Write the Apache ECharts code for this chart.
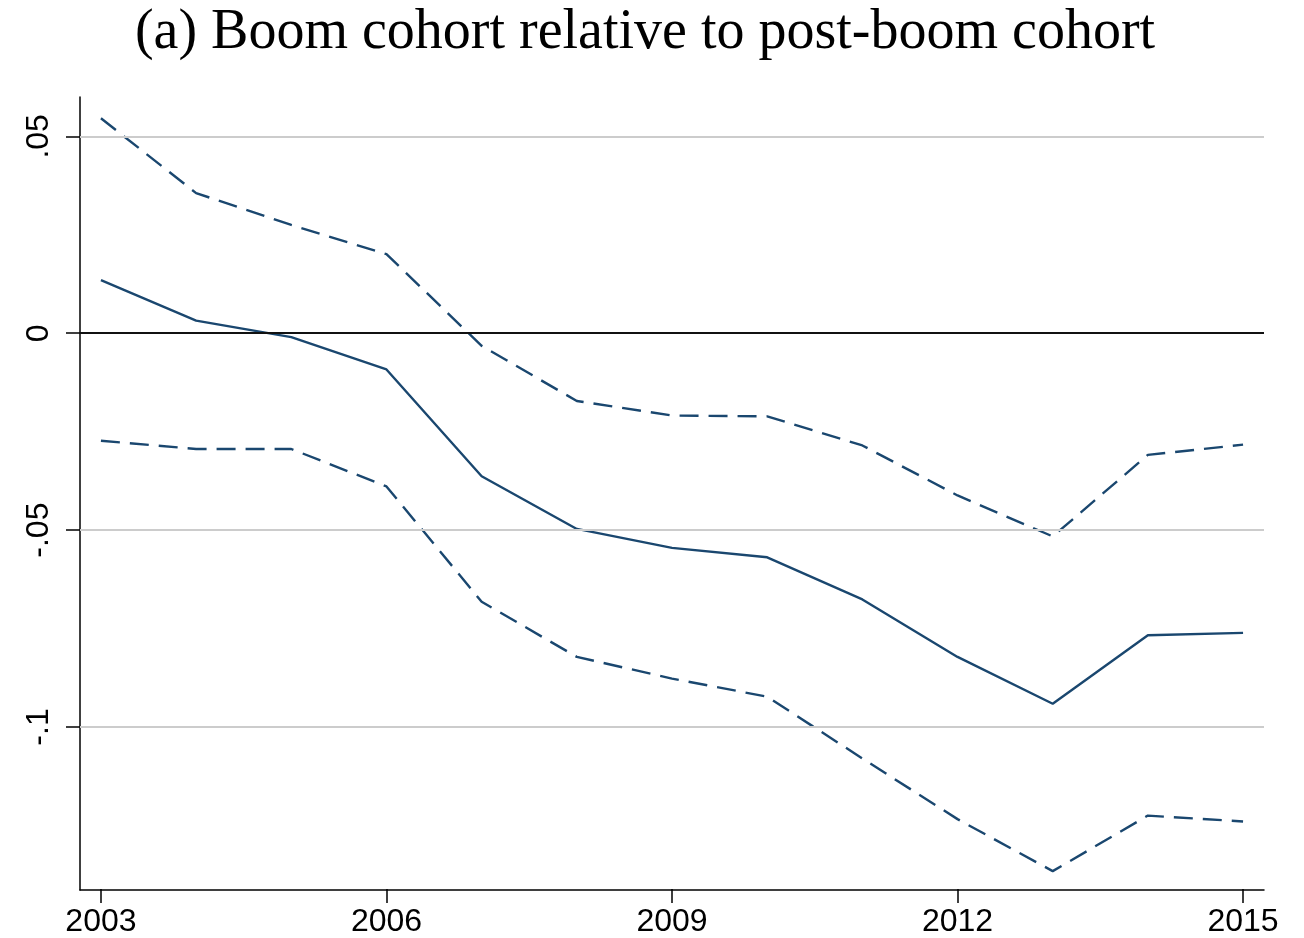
<!DOCTYPE html>
<html>
<head>
<meta charset="utf-8">
<script src="https://cdn.jsdelivr.net/npm/echarts@6/dist/echarts.min.js"></script>
<style>
  html, body { margin: 0; padding: 0; background: #ffffff; }
  #chart { width: 1304px; height: 938px; }
</style>
</head>
<body>
<div id="chart"></div>
<script>
// Yearly point estimates with 95% confidence bounds
const years    = [2003, 2004, 2005, 2006, 2007, 2008, 2009, 2010, 2011, 2012, 2013, 2014, 2015];
const estimate = [0.0135, 0.0032, -0.0010, -0.0092, -0.0363, -0.0497, -0.0545, -0.0569, -0.0676, -0.0822, -0.0941, -0.0767, -0.0761];
const upperCI  = [0.0546, 0.0356, 0.0275, 0.0201, -0.0032, -0.0172, -0.0209, -0.0211, -0.0285, -0.0412, -0.0516, -0.0309, -0.0283];
const lowerCI  = [-0.0273, -0.0294, -0.0294, -0.0389, -0.0682, -0.0822, -0.0877, -0.0923, -0.1080, -0.1234, -0.1366, -0.1225, -0.1240];

// Axis ticks and horizontal reference lines
const xTickFirst = 2003, xTickLast = 2015, xTickStep = 3;
const yTickFirst = -0.1, yTickLast = 0.05, yTickStep = 0.05;
const gridValues = [-0.1, -0.05, 0.05];
const zeroValue = 0;

// Plot frame and data ranges
const W = 1304, H = 938;
const frame = { left: 80, right: 40, top: 97, bottom: 48 };
const xRange = [2002.78, 2015.22];
const yRange = [-0.1414, 0.06];

const plotW = W - frame.left - frame.right;
const plotH = H - frame.top - frame.bottom;
const xPix = v => frame.left + (v - xRange[0]) / (xRange[1] - xRange[0]) * plotW;
const yPix = v => frame.top + (yRange[1] - v) / (yRange[1] - yRange[0]) * plotH;

const NAVY = '#1a476f';
const pairs = vals => years.map((y, i) => [y, vals[i]]);
const fmtY = v => {
  const r = Math.round(v * 100) / 100;
  return r === 0 ? '0' : String(r).replace('0.', '.');
};

const tickStyle = { color: '#000000', width: 1.5 };
const labelFont = { fontFamily: 'Liberation Sans', fontSize: 32, color: '#000000' };

const chart = echarts.init(document.getElementById('chart'), null, { renderer: 'canvas' });

chart.setOption({
  backgroundColor: '#ffffff',
  animation: false,
  title: {
    text: '(a) Boom cohort relative to post-boom cohort',
    left: 640,
    top: 0,
    textAlign: 'center',
    textStyle: {
      fontFamily: 'Liberation Serif',
      fontWeight: 'normal',
      fontSize: 56,
      color: '#000000'
    }
  },
  grid: [
    // main plotting frame
    { left: frame.left, right: frame.right, top: frame.top, bottom: frame.bottom },
    // horizontal ticks span the first to last labelled year
    { left: xPix(xTickFirst), right: W - xPix(xTickLast), top: frame.top, bottom: frame.bottom },
    // vertical ticks span the lowest to highest labelled value
    { left: frame.left, right: frame.right, top: yPix(yTickLast), bottom: H - yPix(yTickFirst) }
  ],
  xAxis: [
    {
      gridIndex: 0, type: 'value', min: xRange[0], max: xRange[1],
      axisLine: { show: true, onZero: false, lineStyle: { color: '#000000', width: 1.5 } },
      axisTick: { show: false }, axisLabel: { show: false }, splitLine: { show: false }
    },
    {
      gridIndex: 1, type: 'value', min: xTickFirst, max: xTickLast, interval: xTickStep,
      axisLine: { show: false, onZero: false },
      axisTick: { show: true, length: 14, lineStyle: tickStyle },
      axisLabel: Object.assign({ margin: 17, formatter: v => String(v) }, labelFont),
      splitLine: { show: false }
    },
    {
      gridIndex: 2, type: 'value', show: false
    }
  ],
  yAxis: [
    {
      gridIndex: 0, type: 'value', min: yRange[0], max: yRange[1],
      axisLine: { show: true, onZero: false, lineStyle: { color: '#000000', width: 1.5 } },
      axisTick: { show: false }, axisLabel: { show: false }, splitLine: { show: false }
    },
    {
      gridIndex: 1, type: 'value', show: false
    },
    {
      gridIndex: 2, type: 'value', min: yTickFirst, max: yTickLast, interval: yTickStep,
      axisLine: { show: false, onZero: false },
      axisTick: { show: true, length: 14, lineStyle: tickStyle },
      axisLabel: Object.assign({ rotate: 90, margin: 25, formatter: fmtY }, labelFont),
      splitLine: { show: false }
    }
  ],
  series: [
    {
      name: 'reference',
      type: 'line',
      xAxisIndex: 0, yAxisIndex: 0,
      data: [],
      silent: true,
      z: 1,
      markLine: {
        silent: true,
        symbol: ['none', 'none'],
        label: { show: false },
        data: gridValues.map(v => ({ yAxis: v, lineStyle: { color: '#cccccc', width: 1.8, type: 'solid' } }))
          .concat([{ yAxis: zeroValue, lineStyle: { color: '#111111', width: 2, type: 'solid' } }])
      }
    },
    {
      name: 'upper',
      type: 'line',
      xAxisIndex: 0, yAxisIndex: 0,
      data: pairs(upperCI),
      showSymbol: false,
      z: 3,
      lineStyle: { color: NAVY, width: 2.4, type: [19, 10] }
    },
    {
      name: 'estimate',
      type: 'line',
      xAxisIndex: 0, yAxisIndex: 0,
      data: pairs(estimate),
      showSymbol: false,
      z: 3,
      lineStyle: { color: NAVY, width: 2.4, type: 'solid' }
    },
    {
      name: 'lower',
      type: 'line',
      xAxisIndex: 0, yAxisIndex: 0,
      data: pairs(lowerCI),
      showSymbol: false,
      z: 3,
      lineStyle: { color: NAVY, width: 2.4, type: [19, 10] }
    }
  ]
});
</script>
</body>
</html>
